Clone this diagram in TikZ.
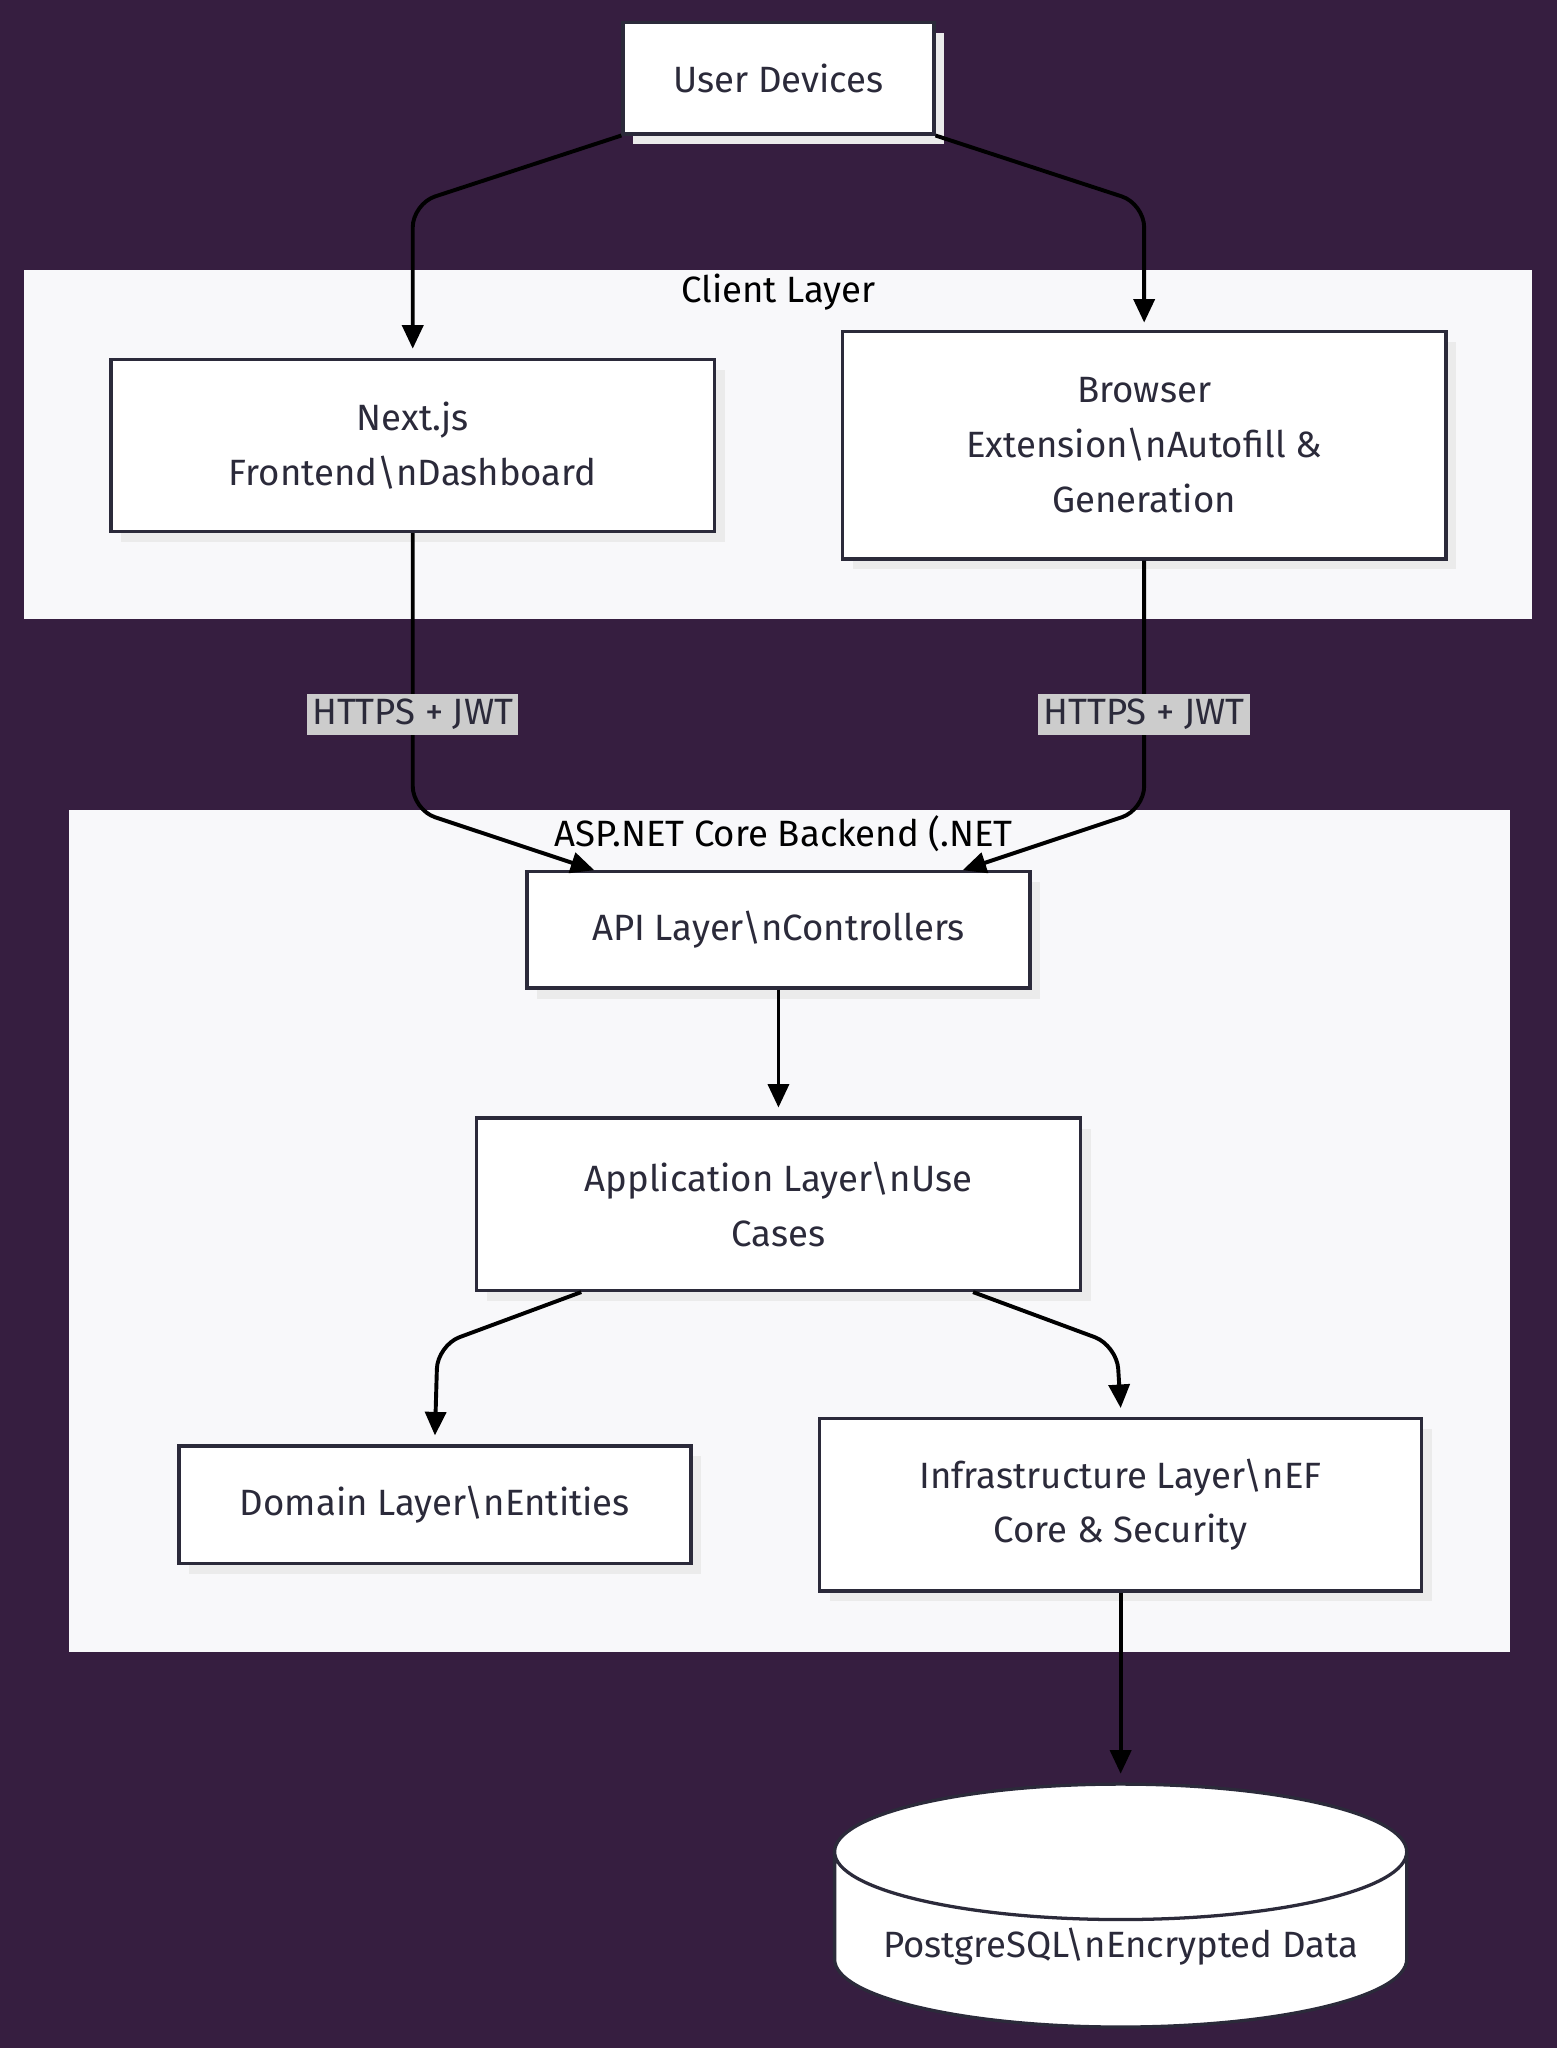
\documentclass[tikz,border=0pt]{standalone}
\usepackage{fontspec}
\setmainfont{Fira Sans}
\usetikzlibrary{arrows.meta,shapes.geometric,shadows}
\definecolor{bgpurple}{HTML}{361E40}
\definecolor{clusterbg}{HTML}{F8F8FA}
\definecolor{edgeink}{HTML}{2B2A3A}
\definecolor{lblgrey}{HTML}{CCCCCC}
\tikzset{
  box/.style={draw=edgeink, line width=2.5pt, fill=white, font=\fontsize{28}{42}\selectfont, text=edgeink, align=center,
    drop shadow={shadow xshift=8pt, shadow yshift=-8pt, fill=black!8, opacity=1}},
  cluster/.style={fill=clusterbg, draw=none},
  flow/.style={line width=3pt, black, rounded corners=18pt, -{Triangle[length=18pt,width=16pt]}},
  edgelabel/.style={fill=lblgrey, font=\fontsize{28}{32}\selectfont, text=edgeink, inner sep=4pt},
  clusterlabel/.style={font=\fontsize{28}{32}\selectfont, text=black}
}
\begin{document}
\begin{tikzpicture}[x=1pt,y=-1pt]
  \fill[bgpurple] (0,0) rectangle (1192,1568);
  \useasboundingbox (0,0) rectangle (1192,1568);
  % clusters
  \fill[cluster] (18,207) rectangle (1173,474);
  \node[clusterlabel] (clientlbl) at (596,224) {Client Layer};
  \fill[cluster] (53,620) rectangle (1156,1265);
  \node[clusterlabel] (backendlbl) at (600,638) {ASP.NET Core Backend (.NET};
  % nodes
  \node[box, minimum width=238pt, minimum height=85pt] (devices) at (596,60) {User Devices};
  \node[box, minimum width=462pt, minimum height=132pt] (nextjs) at (316,341) {Next.js\\Frontend\textbackslash nDashboard};
  \node[box, minimum width=462pt, minimum height=174pt] (browser) at (876,341) {Browser\\Extension\textbackslash nAutofill \&\\Generation};
  \node[box, minimum width=385pt, minimum height=89pt] (api) at (596,712) {API Layer\textbackslash nControllers};
  \node[box, minimum width=462pt, minimum height=132pt] (app) at (596,922) {Application Layer\textbackslash nUse\\Cases};
  \node[box, minimum width=392pt, minimum height=90pt] (domain) at (333,1152) {Domain Layer\textbackslash nEntities};
  \node[box, minimum width=461pt, minimum height=132pt] (infra) at (858,1152) {Infrastructure Layer\textbackslash nEF\\Core \& Security};
  \node[cylinder, shape border rotate=90, aspect=0.28, draw=edgeink, line width=2.5pt, fill=white,
    minimum width=438pt, minimum height=186pt, font=\fontsize{28}{32}\selectfont, text=edgeink] (db) at (858,1490) {PostgreSQL\textbackslash nEncrypted Data};
  % connectors
  \coordinate (nextin) at (316,267);
  \coordinate (browserin) at (876,247);
  \draw[flow] (devices.south west) -- (316,156) -- (nextin);
  \draw[flow] (devices.south east) -- (876,156) -- (browserin);
  \draw[flow] (nextjs.south) -- (316,620) -- (api.north west -| 455,0);
  \draw[flow] (browser.south) -- (876,620) -- (api.north east -| 737,0);
  \node[edgelabel] (lblnext) at (316,547) {HTTPS + JWT};
  \node[edgelabel] (lblbrowser) at (876,547) {HTTPS + JWT};
  \coordinate (appin) at (596,848);
  \draw[flow] (api.south) -- (appin);
  \coordinate (domainin) at (333,1099);
  \coordinate (infrain) at (858,1078);
  \draw[flow] (app.south west -| 445,0) -- (335,1030) -- (domainin);
  \draw[flow] (app.south east -| 745,0) -- (855,1030) -- (infrain);
  \coordinate (dbin) at (858,1358);
  \draw[flow] (infra.south) -- (dbin);
\end{tikzpicture}
\end{document}
